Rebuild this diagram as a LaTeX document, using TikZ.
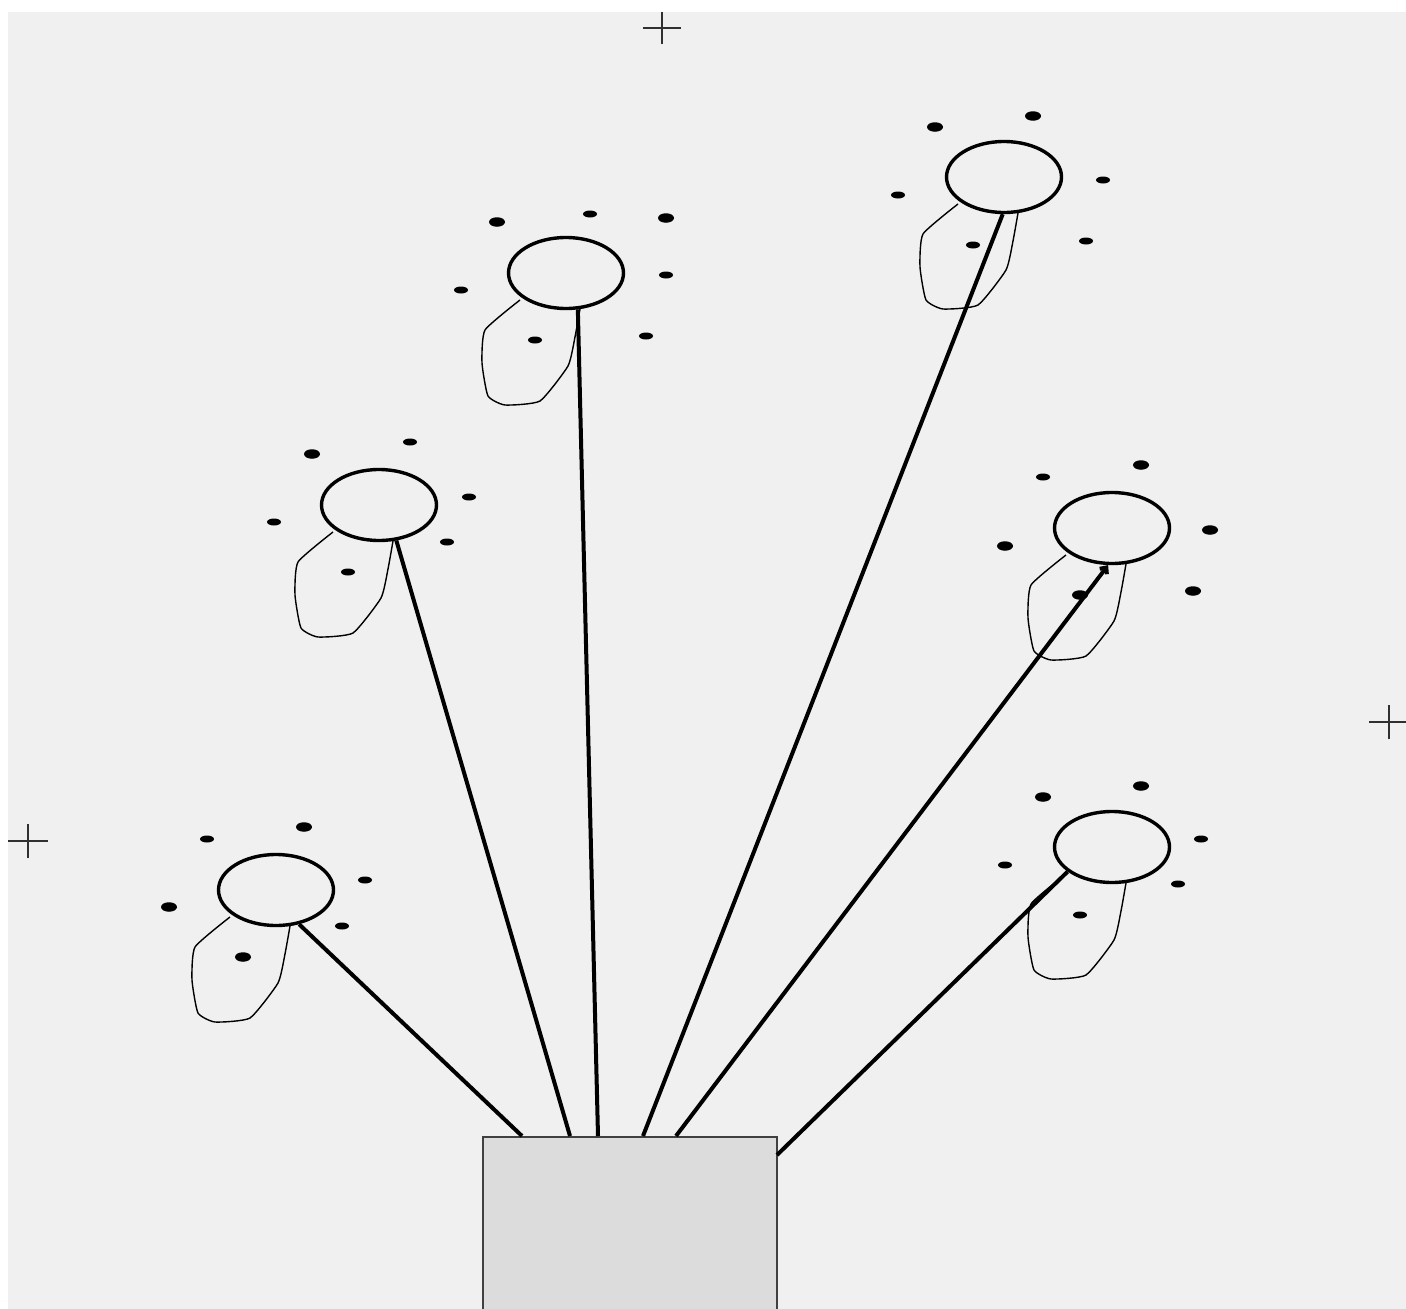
\documentclass[tikz,border=0pt]{standalone}
\usetikzlibrary{shapes.geometric,arrows.meta}
\definecolor{bgpanel}{HTML}{F0F0F0}
\definecolor{potfill}{HTML}{DCDCDC}
\definecolor{potline}{HTML}{404040}
\definecolor{crossline}{HTML}{303030}
\tikzset{
  flower/.style={draw=black, line width=3.4pt, ellipse, minimum width=115pt, minimum height=71pt, inner sep=0pt},
  stem/.style={draw=black, line width=4pt},
  petalline/.style={draw=black, line width=1.4pt, line join=round},
  smalldot/.style={fill=black, ellipse, minimum width=14pt, minimum height=7pt, inner sep=0pt},
  bigdot/.style={fill=black, ellipse, minimum width=16pt, minimum height=9.5pt, inner sep=0pt},
  crossmark/.style={draw=crossline, line width=1.6pt},
  petal/.pic={\draw[petalline] plot[smooth, tension=0.3] coordinates {(-46,27) (-81,57) (-84,90) (-78,123) (-61,132) (-26,128) (2,93) (9,64) (14,36)};}
}
\begin{document}
\begin{tikzpicture}[x=1pt,y=-1pt]
\useasboundingbox (0,0) rectangle (1406,1309);
\begin{scope}
\clip (0,0) rectangle (1406,1309);
\fill[white] (0,0) rectangle (1406,1309);
\fill[bgpanel] (8,12) rectangle (1406,1309);

% crosshairs
\coordinate (c1) at (662,28);
\coordinate (c2) at (28,841);
\coordinate (c3) at (1389,722);
\draw[crossmark] ([xshift=-19pt]c1) -- ([xshift=19pt]c1) ([yshift=-16pt]c1) -- ([yshift=16pt]c1);
\draw[crossmark] ([xshift=-20pt]c2) -- ([xshift=20pt]c2) ([yshift=-17pt]c2) -- ([yshift=17pt]c2);
\draw[crossmark] ([xshift=-20pt]c3) -- ([xshift=20pt]c3) ([yshift=-17pt]c3) -- ([yshift=17pt]c3);

% petals
\pic at (276,890) {petal};
\pic at (379,505) {petal};
\pic at (566,273) {petal};
\pic at (1004,177) {petal};
\pic at (1112,528) {petal};
\pic at (1112,847) {petal};

% flowers
\node[flower] (f1) at (276,890) {};
\node[flower] (f2) at (379,505) {};
\node[flower] (f3) at (566,273) {};
\node[flower] (f4) at (1004,177) {};
\node[flower] (f5) at (1112,528) {};
\node[flower] (f6) at (1112,847) {};

% dots
\node[smalldot] (d11) at (207,839) {};
\node[bigdot]   (d12) at (304,827) {};
\node[smalldot] (d13) at (365,880) {};
\node[smalldot] (d14) at (342,926) {};
\node[bigdot]   (d15) at (169,907) {};
\node[bigdot]   (d16) at (243,957) {};

\node[bigdot]   (d21) at (312,454) {};
\node[smalldot] (d22) at (410,442) {};
\node[smalldot] (d23) at (469,497) {};
\node[smalldot] (d24) at (447,542) {};
\node[smalldot] (d25) at (274,522) {};
\node[smalldot] (d26) at (348,572) {};

\node[bigdot]   (d31) at (497,222) {};
\node[smalldot] (d32) at (590,214) {};
\node[bigdot]   (d33) at (666,218) {};
\node[smalldot] (d34) at (666,275) {};
\node[smalldot] (d35) at (646,336) {};
\node[smalldot] (d36) at (461,290) {};
\node[smalldot] (d37) at (535,340) {};

\node[bigdot]   (d41) at (935,127) {};
\node[bigdot]   (d42) at (1033,116) {};
\node[smalldot] (d43) at (1103,180) {};
\node[smalldot] (d44) at (1086,241) {};
\node[smalldot] (d45) at (898,195) {};
\node[smalldot] (d46) at (973,245) {};

\node[smalldot] (d51) at (1043,477) {};
\node[bigdot]   (d52) at (1141,465) {};
\node[bigdot]   (d53) at (1210,530) {};
\node[bigdot]   (d54) at (1193,591) {};
\node[bigdot]   (d55) at (1005,546) {};
\node[bigdot]   (d56) at (1080,595) {};

\node[bigdot]   (d61) at (1043,797) {};
\node[bigdot]   (d62) at (1141,786) {};
\node[smalldot] (d63) at (1201,839) {};
\node[smalldot] (d64) at (1178,884) {};
\node[smalldot] (d65) at (1005,865) {};
\node[smalldot] (d66) at (1080,915) {};

% pot
\node[draw=potline, fill=potfill, line width=1.5pt, rectangle, inner sep=0pt,
      minimum width=294pt, minimum height=200pt, anchor=north west] (pot) at (482,1136) {};
\coordinate (p1) at (522,1136);
\coordinate (p2) at (570,1136);
\coordinate (p3) at (598,1136);
\coordinate (p4) at (643,1136);
\coordinate (p5) at (676,1136);
\coordinate (p6) at (777,1155);

% stems
\draw[stem] (p1) -- (f1.-56);
\draw[stem] (p2) -- (f2.-64);
\draw[stem] (p3) -- (f3.-72);
\draw[stem] (p4) -- (f4.-92);
\draw[stem, -{Straight Barb[length=5pt,width=9pt]}] (p5) -- (f5.-96);
\draw[stem] (p6) -- (f6.-151);
\end{scope}
\end{tikzpicture}
\end{document}
